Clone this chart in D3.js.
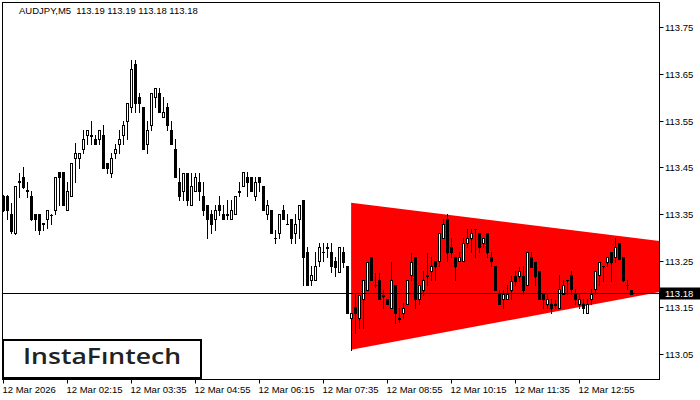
<!DOCTYPE html>
<html>
<head>
<meta charset="utf-8">
<script src="https://cdn.jsdelivr.net/npm/d3@7"></script>
<style>
html,body{margin:0;padding:0;background:#fff;}
svg{display:block;}
</style>
</head>
<body>
<svg id="chart" width="700" height="400"></svg>
<script>
const symbolTitle = "AUDJPY,M5  113.19 113.19 113.18 113.18";
const bidPrice = 113.18;
const bidLabel = "113.18";
const yTicks = [113.05, 113.15, 113.25, 113.35, 113.45, 113.55, 113.65, 113.75];
const xTickBars = [0, 16, 32, 48, 64, 80, 96, 112, 128, 144];
const xTickLabels = ["12 Mar 2026","12 Mar 02:15","12 Mar 03:35","12 Mar 04:55","12 Mar 06:15","12 Mar 07:35","12 Mar 08:55","12 Mar 10:15","12 Mar 11:35","12 Mar 12:55"];
const trianglePoints = [[86.9,113.376],[164,113.294],[164,113.185],[86.9,113.061]];
const logoText = "InstaFıntech";

const open = [
113.391,113.391,113.352,113.311,113.421,113.431,113.401,113.391,113.352,113.352,
113.331,113.341,113.351,113.361,113.442,113.442,113.361,113.391,113.472,113.472,
113.491,113.521,113.521,113.513,113.513,113.521,113.461,113.440,113.483,113.502,
113.521,113.551,113.581,113.673,113.603,113.581,113.502,113.543,113.603,113.611,
113.560,113.581,113.532,113.491,113.421,113.401,113.440,113.371,113.401,113.421,
113.391,113.371,113.352,113.341,113.371,113.352,113.352,113.341,113.352,113.401,
113.412,113.431,113.431,113.391,113.431,113.412,113.352,113.361,113.301,113.311,
113.361,113.331,113.341,113.311,113.341,113.382,113.271,113.211,113.211,113.251,
113.271,113.281,113.271,113.251,113.228,113.271,113.241,113.129,113.153,113.129,
113.170,113.189,113.260,113.200,113.211,113.179,113.170,113.151,113.200,113.129,
113.140,113.159,113.221,113.260,113.170,113.189,113.221,113.230,113.251,113.251,
113.301,113.341,113.281,113.260,113.251,113.251,113.290,113.301,113.320,113.311,
113.290,113.311,113.260,113.241,113.181,113.170,113.170,113.189,113.219,113.219,
113.219,113.200,113.260,113.249,113.230,113.181,113.159,113.159,113.159,113.151,
113.181,113.211,113.221,113.181,113.159,113.159,113.140,113.170,113.191,113.221,
113.241,113.249,113.271,113.260,113.290,113.260,113.200,113.190];
const high = [
113.393,113.393,113.376,113.412,113.440,113.453,113.421,113.401,113.352,113.352,
113.333,113.361,113.352,113.431,113.442,113.442,113.421,113.461,113.504,113.483,
113.532,113.532,113.551,113.521,113.532,113.543,113.461,113.483,113.502,113.532,
113.551,113.590,113.682,113.682,113.611,113.581,113.551,113.611,113.622,113.622,
113.603,113.590,113.551,113.513,113.451,113.440,113.440,113.440,113.440,113.440,
113.421,113.371,113.361,113.371,113.391,113.371,113.382,113.382,113.391,113.421,
113.442,113.442,113.431,113.431,113.431,113.412,113.382,113.361,113.318,113.352,
113.371,113.352,113.341,113.352,113.371,113.382,113.281,113.241,113.271,113.290,
113.290,113.290,113.290,113.260,113.281,113.281,113.241,113.140,113.181,113.179,
113.211,113.249,113.260,113.226,113.226,113.189,113.170,113.249,113.200,113.151,
113.161,113.211,113.269,113.260,113.200,113.230,113.269,113.260,113.251,113.311,
113.341,113.352,113.301,113.260,113.271,113.301,113.320,113.320,113.320,113.311,
113.301,113.311,113.271,113.241,113.189,113.189,113.200,113.219,113.230,113.239,
113.241,113.271,113.271,113.249,113.230,113.181,113.181,113.170,113.168,113.221,
113.211,113.211,113.230,113.191,113.181,113.170,113.170,113.191,113.230,113.249,
113.241,113.260,113.271,113.301,113.290,113.260,113.211,113.190];
const low = [
113.359,113.341,113.311,113.309,113.389,113.408,113.389,113.339,113.318,113.309,
113.318,113.322,113.331,113.352,113.371,113.371,113.361,113.391,113.421,113.451,
113.483,113.502,113.502,113.502,113.502,113.451,113.440,113.431,113.472,113.483,
113.502,113.513,113.571,113.571,113.571,113.491,113.483,113.532,113.581,113.571,
113.560,113.532,113.502,113.431,113.382,113.382,113.371,113.371,113.401,113.382,
113.350,113.301,113.311,113.318,113.350,113.341,113.341,113.341,113.352,113.391,
113.412,113.391,113.401,113.382,113.401,113.361,113.341,113.311,113.290,113.301,
113.341,113.330,113.290,113.290,113.301,113.200,113.200,113.200,113.211,113.241,
113.251,113.260,113.228,113.219,113.228,113.239,113.140,113.061,113.097,113.108,
113.108,113.189,113.211,113.196,113.170,113.151,113.159,113.151,113.119,113.121,
113.129,113.159,113.211,113.151,113.159,113.179,113.200,113.211,113.211,113.241,
113.301,113.251,113.260,113.211,113.251,113.251,113.281,113.271,113.260,113.271,
113.281,113.260,113.241,113.189,113.159,113.151,113.170,113.170,113.200,113.209,
113.181,113.200,113.239,113.200,113.170,113.151,113.151,113.140,113.151,113.151,
113.181,113.181,113.181,113.159,113.151,113.140,113.140,113.159,113.181,113.200,
113.209,113.241,113.209,113.249,113.256,113.209,113.191,113.180];
const close = [
113.361,113.361,113.316,113.412,113.423,113.410,113.403,113.341,113.341,113.318,
113.332,113.361,113.350,113.431,113.431,113.371,113.401,113.461,113.483,113.483,
113.513,113.532,113.520,113.502,113.532,113.451,113.451,113.472,113.491,113.513,
113.543,113.590,113.663,113.590,113.590,113.491,113.532,113.611,113.622,113.571,
113.571,113.543,113.502,113.431,113.391,113.440,113.382,113.412,113.431,113.401,
113.361,113.341,113.331,113.361,113.361,113.341,113.351,113.361,113.391,113.400,
113.442,113.421,113.401,113.421,113.421,113.361,113.371,113.311,113.300,113.352,
113.341,113.330,113.301,113.331,113.371,113.260,113.200,113.221,113.241,113.281,
113.270,113.280,113.241,113.239,113.281,113.249,113.140,113.140,113.140,113.179,
113.211,113.249,113.211,113.199,113.170,113.177,113.159,113.211,113.140,113.128,
113.151,113.211,113.249,113.170,113.200,113.211,113.220,113.241,113.241,113.311,
113.331,113.271,113.271,113.241,113.260,113.290,113.301,113.311,113.319,113.281,
113.301,113.271,113.251,113.189,113.159,113.181,113.181,113.209,113.209,113.230,
113.189,113.271,113.239,113.219,113.170,113.170,113.170,113.151,113.158,113.191,
113.200,113.210,113.191,113.170,113.170,113.151,113.159,113.181,113.230,113.249,
113.240,113.260,113.249,113.281,113.256,113.211,113.199,113.180];

const svg = d3.select("#chart");
const plot = {left: 2.5, right: 659.5, top: 2.5, bottom: 379.5};
const font = "'Liberation Sans', Arial, sans-serif";

const x = d3.scaleLinear().domain([0, 164]).range([3.5, 659.5]);
const y = d3.scaleLinear().domain([113.05, 113.75]).range([355, 28.3]);
const px = v => Math.floor(v) + 0.5;
const py = v => Math.round(v) + 0.5;

svg.append("defs").append("clipPath").attr("id","clip")
  .append("rect").attr("x", plot.left).attr("y", plot.top)
  .attr("width", plot.right - plot.left).attr("height", plot.bottom - plot.top);

// triangle pattern
svg.append("path")
  .attr("clip-path","url(#clip)")
  .attr("d", d3.line().x(d => x(d[0])).y(d => y(d[1]))(trianglePoints) + "Z")
  .attr("fill", "#ff0000");

// candles
const data = open.map((o, i) => ({i, o, h: high[i], l: low[i], c: close[i]}));
const g = svg.append("g").attr("clip-path","url(#clip)");
data.forEach(d => {
  const cx = px(x(d.i));
  g.append("line").attr("x1", cx).attr("x2", cx)
    .attr("y1", Math.round(y(d.h))).attr("y2", Math.round(y(d.l)) + 1)
    .attr("stroke", "#000").attr("stroke-width", 1);
  const top = py(y(Math.max(d.o, d.c)));
  const bot = py(y(Math.min(d.o, d.c)));
  if (bot - top < 1) {
    g.append("line").attr("x1", cx - 1.5).attr("x2", cx + 1.5)
      .attr("y1", top).attr("y2", top).attr("stroke", "#000");
  } else {
    g.append("rect").attr("x", cx - 1).attr("width", 2)
      .attr("y", top).attr("height", bot - top)
      .attr("fill", d.c >= d.o ? "#fff" : "#000")
      .attr("stroke", "#000").attr("stroke-width", 1);
  }
});

// bid line
const by = py(y(bidPrice)) - 1;
svg.append("line").attr("x1", plot.left).attr("x2", plot.right)
  .attr("y1", by).attr("y2", by).attr("stroke", "#000");

// frame
svg.append("rect").attr("x", plot.left).attr("y", plot.top)
  .attr("width", plot.right - plot.left).attr("height", plot.bottom - plot.top)
  .attr("fill", "none").attr("stroke", "#000");

// right axis
const ya = svg.append("g");
yTicks.forEach(t => {
  const ty = py(y(t)) - 1;
  ya.append("line").attr("x1", plot.right).attr("x2", plot.right + 4)
    .attr("y1", ty).attr("y2", ty).attr("stroke", "#000");
  ya.append("text").attr("x", 665).attr("y", ty + 3.5)
    .attr("font-family", font).attr("font-size", 9.5).attr("fill", "#000").text(t.toFixed(2));
});
svg.append("rect").attr("x", 660).attr("y", by - 6).attr("width", 40).attr("height", 12).attr("fill", "#000");
svg.append("text").attr("x", 665).attr("y", by + 3.5)
  .attr("font-family", font).attr("font-size", 9.5).attr("fill", "#fff").text(bidLabel);

// bottom axis
xTickBars.forEach((b, k) => {
  const tx = px(x(b));
  svg.append("line").attr("x1", tx).attr("x2", tx)
    .attr("y1", plot.bottom).attr("y2", plot.bottom + 4).attr("stroke", "#000");
  svg.append("text").attr("x", tx - 1).attr("y", 393)
    .attr("font-family", font).attr("font-size", 9.5).attr("fill", "#000").text(xTickLabels[k]);
});

// title
svg.append("text").attr("x", 19).attr("y", 14)
  .attr("font-family", font).attr("font-size", 9.5).attr("fill", "#000")
  .style("white-space", "pre").attr("xml:space", "preserve").text(symbolTitle);

// logo
svg.append("rect").attr("x", 3).attr("y", 340).attr("width", 198).attr("height", 38)
  .attr("fill", "#fff").attr("stroke", "#000").attr("stroke-width", 2);
svg.append("text").attr("x", 23).attr("y", 364)
  .attr("font-family", "'Open Sans', Lato, sans-serif").attr("font-weight", 600)
  .attr("font-size", 21).attr("fill", "#222")
  .attr("textLength", 158).attr("lengthAdjust", "spacingAndGlyphs").text(logoText);
</script>
</body>
</html>
